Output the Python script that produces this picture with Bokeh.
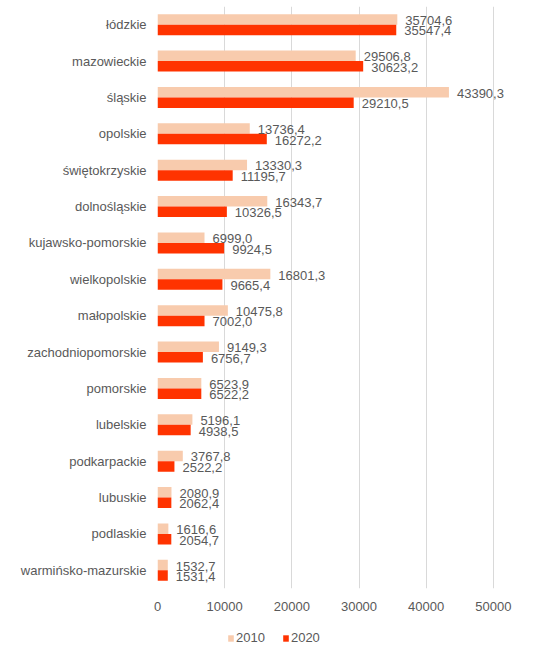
from bokeh.plotting import figure
from bokeh.models import (FactorRange, Range1d, ColumnDataSource, LabelSet, Legend,
                          LegendItem, FixedTicker)
from bokeh.layouts import column
from bokeh.transform import dodge
from bokeh.core.properties import value
from bokeh.embed import file_html
from bokeh.resources import INLINE

regions = ["łódzkie", "mazowieckie", "śląskie", "opolskie", "świętokrzyskie",
           "dolnośląskie", "kujawsko-pomorskie", "wielkopolskie", "małopolskie",
           "zachodniopomorskie", "pomorskie", "lubelskie", "podkarpackie",
           "lubuskie", "podlaskie", "warmińsko-mazurskie"]
v2010 = [35704.6, 29506.8, 43390.3, 13736.4, 13330.3, 16343.7, 6999.0, 16801.3,
         10475.8, 9149.3, 6523.9, 5196.1, 3767.8, 2080.9, 1616.6, 1532.7]
v2020 = [35547.4, 30623.2, 29210.5, 16272.2, 11195.7, 10326.5, 9924.5, 9665.4,
         7002.0, 6756.7, 6522.2, 4938.5, 2522.2, 2062.4, 2054.7, 1531.4]
x_ticks = [0, 10000, 20000, 30000, 40000, 50000]
years = ["2010", "2020"]

FONT = "Liberation Sans"
TXT = "#595959"
C2010 = "#F8CBAD"
C2020 = "#FF3300"


def fmt(v):
    return f"{v:.1f}".replace(".", ",")


src = ColumnDataSource(data=dict(
    region=regions, v2010=v2010, v2020=v2020,
    l2010=[fmt(v) for v in v2010], l2020=[fmt(v) for v in v2020],
))

p = figure(width=533, height=620, output_backend="svg", toolbar_location=None,
           y_range=FactorRange(factors=list(reversed(regions)), range_padding=0),
           x_range=Range1d(0, 53300),
           min_border_left=157, min_border_right=18, min_border_top=6,
           min_border_bottom=32)

off = 0.145
bh = 0.29
r1 = p.hbar(y=dodge("region", off, range=p.y_range), left=0, right="v2010",
            height=bh, source=src, fill_color=C2010, line_color=None)
r2 = p.hbar(y=dodge("region", -off, range=p.y_range), left=0, right="v2020",
            height=bh, source=src, fill_color=C2020, line_color=None)

for col, lab, o in (("v2010", "l2010", off), ("v2020", "l2020", -off)):
    ls = LabelSet(x=col, y=dodge("region", o, range=p.y_range), text=lab,
                  source=src, x_offset=8, y_offset=-1, text_baseline="middle",
                  text_font_size="13px", text_color=TXT, text_font=value(FONT))
    p.add_layout(ls)

p.xaxis.ticker = FixedTicker(ticks=x_ticks)
p.xgrid.ticker = FixedTicker(ticks=x_ticks)
p.xgrid.grid_line_color = "#D9D9D9"
p.ygrid.grid_line_color = None
p.outline_line_color = None

for ax in (p.xaxis[0], p.yaxis[0]):
    ax.axis_line_color = None
    ax.major_tick_line_color = None
    ax.minor_tick_line_color = None
    ax.major_tick_out = 0
    ax.major_tick_in = 0
    ax.major_label_text_font = FONT
    ax.major_label_text_font_size = "13px"
    ax.major_label_text_color = TXT
p.xaxis[0].major_label_standoff = 13
p.yaxis[0].major_label_standoff = 11

# legend strip below the chart (its frame is aligned with the chart's frame)
q = figure(width=533, height=30, output_backend="svg", toolbar_location=None,
           x_range=Range1d(0, 1), y_range=Range1d(0, 1),
           x_axis_type=None, y_axis_type=None,
           min_border_left=0, min_border_right=0, min_border_top=0,
           min_border_bottom=0)
q.outline_line_color = None
q.xgrid.grid_line_color = None
q.ygrid.grid_line_color = None
g1 = q.hbar(y="v2010", right="v2010", left=0, height=1, source=src,
            fill_color=C2010, line_color=None, visible=False)
g2 = q.hbar(y="v2020", right="v2020", left=0, height=1, source=src,
            fill_color=C2020, line_color=None, visible=False)
legend = Legend(items=[LegendItem(label=years[0], renderers=[g1]),
                       LegendItem(label=years[1], renderers=[g2])],
                orientation="horizontal", location=(70, 5),
                glyph_width=7, glyph_height=8, label_height=14,
                label_standoff=2, spacing=17, padding=0, margin=0,
                border_line_color=None, background_fill_alpha=0,
                inactive_fill_alpha=0,
                label_text_font=FONT, label_text_font_size="13px",
                label_text_color=TXT)
q.add_layout(legend)

layout = column(p, q, spacing=0)
open("out.html", "w").write(file_html(layout, INLINE))
